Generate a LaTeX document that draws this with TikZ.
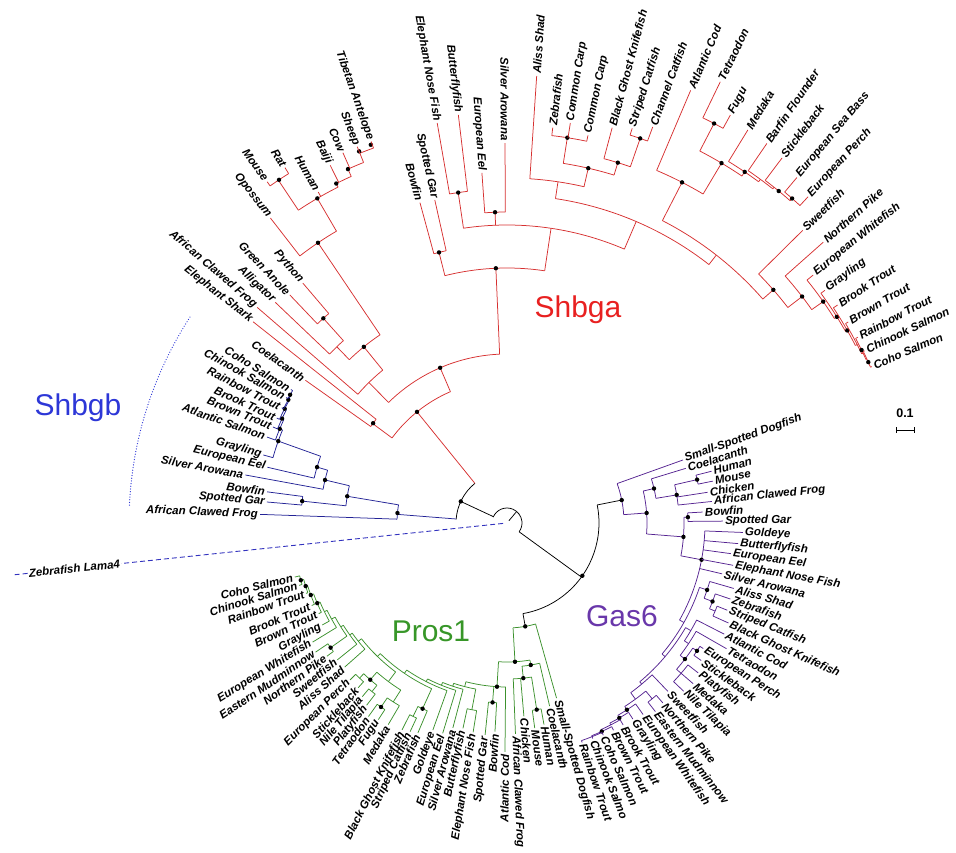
\documentclass[tikz,border=0pt]{standalone}
\usepackage{fontspec}
\setmainfont{Liberation Sans}
\definecolor{redL}{RGB}{214,48,48}
\definecolor{redT}{RGB}{232,32,32}
\definecolor{bluL}{RGB}{35,35,150}
\definecolor{bluT}{RGB}{45,55,215}
\definecolor{grnL}{RGB}{60,145,45}
\definecolor{grnT}{RGB}{55,150,40}
\definecolor{purL}{RGB}{85,35,145}
\definecolor{purT}{RGB}{105,55,170}
\definecolor{dashB}{RGB}{50,50,190}
\tikzset{
 ln/.style={draw=black, line width=0.75pt},
 lab/.style={font=\fontsize{11.5}{13}\selectfont\bfseries\itshape, inner sep=0.6pt, text=black},
 ttl/.style={font=\fontsize{30}{34}\selectfont, inner sep=0pt},
}
\newcommand{\Rd}[3]{\draw[ln] ({#1}:{#2}) -- ({#1}:{#3});}
\newcommand{\Ar}[3]{\draw[ln] ({#1}:{#3}) arc[start angle={#1}, end angle={#2}, radius=#3pt];}
\newcommand{\Dt}[2]{\fill ({#1}:{#2}) circle[radius=2.2pt];}
\newcounter{lf}
\newcommand{\LfR}[4]{\Rd{#1}{#2}{#3}\stepcounter{lf}\node[lab,anchor=west,rotate=#1] (lf\arabic{lf}) at ({#1}:{#3+1.5}) {#4};}
\newcommand{\LfL}[4]{\Rd{#1}{#2}{#3}\stepcounter{lf}\node[lab,anchor=east,rotate=#1+180] (lf\arabic{lf}) at ({#1}:{#3+1.5}) {#4};}
\begin{document}
\begin{tikzpicture}[x=1pt,y=1pt]
\useasboundingbox (-507,-330) rectangle (449,523);
% ---------- root (black)
\Ar{157}{-36}{15}
\Rd{50}{3}{15}
\Rd{155}{15}{51}
\Ar{129}{176}{51}
\Dt{155}{51}
\Rd{-36}{15}{92}
\Ar{11.3}{-80}{92}
\Dt{-35}{92}
\Rd{11.3}{92}{117}
\Rd{-80}{92}{105}
% ---------- Zebrafish Lama4 outgroup
\draw[dashB, line width=0.9pt, dash pattern=on 5pt off 3pt] (186:4) -- (186:388);
\draw[dashB, line width=0.9pt, dash pattern=on 5pt off 3pt] (186:482) -- (186:498);
\node[lab, rotate=6] (zl) at (186:435) {Zebrafish Lama4};
% ---------- Shbga (red)
\begin{scope}[ln/.style={draw=redL,line width=0.75pt}]
\Rd{129}{51}{143}
\Ar{113.3}{143.5}{143} \Dt{129}{143}
\Rd{143.5}{143}{167} \Ar{141.6}{144.7}{167} \Dt{143.3}{167}
\LfL{141.6}{167}{324}{Elephant Shark}
\LfL{144.7}{167}{247}{Coelacanth}
\Rd{113.3}{143}{169} \Ar{92.5}{134.5}{169} \Dt{113.3}{169}
\Rd{134.5}{169}{197} \Ar{129.1}{139.2}{197}
\LfL{139.2}{197}{330}{African Clawed Frog}
\Rd{129.1}{197}{227} \Ar{124}{134}{227} \Dt{129.1}{227}
\Rd{134}{227}{245} \Ar{131.9}{136.4}{245}
\LfL{136.4}{245}{320}{Alligator}
\Rd{131.9}{245}{275} \Ar{130.4}{133.6}{275} \Dt{131.9}{275}
\LfL{130.4}{275}{315}{Python}
\LfL{133.6}{275}{315}{Green Anole}
\Rd{124}{227}{338} \Ar{120.3}{127.8}{338} \Dt{124}{338}
\LfL{127.8}{338}{386}{Opossum}
\Rd{120.3}{338}{376} \Ar{116.7}{123.7}{376} \Dt{120.3}{376}
\LfL{119.7}{376}{381}{Human}
\Rd{123.7}{376}{412} \Ar{122}{125.1}{412} \Dt{123.6}{412}
\LfL{125.1}{412}{417}{Mouse}
\LfL{122}{412}{419}{Rat}
\Rd{116.7}{376}{380} \Ar{114.2}{116.7}{380} \Dt{116.7}{380}
\LfL{116.3}{380}{399}{Baiji}
\Rd{114.2}{380}{388} \Ar{111.7}{114.2}{388} \Dt{114.2}{388}
\LfL{113.9}{388}{405}{Cow}
\Rd{111.7}{388}{398} \Ar{109.6}{111.7}{398} \Dt{111.7}{400} \Dt{109.8}{402}
\LfL{111.7}{398}{405}{Sheep}
\LfL{109.6}{398}{405}{Tibetan Antelope}
\Rd{92.5}{169}{255} \Ar{81.5}{104.1}{255} \Dt{92.5}{255}
\Rd{104.1}{255}{279} \Ar{102.6}{105.2}{279} \Dt{104.1}{279}
\LfL{105.2}{279}{332}{Bowfin}
\LfL{102.6}{279}{331}{Spotted Gar}
\Rd{81.5}{255}{298} \Ar{66.8}{98.4}{298}
\Rd{98.4}{298}{334} \Ar{96.8}{99.9}{334} \Dt{98.4}{334}
\LfL{96.8}{334}{411}{Butterflyfish}
\LfL{99.9}{334}{406}{Elephant Nose Fish}
\Rd{92.2}{298}{311} \Ar{90.3}{94.1}{311} \Dt{92.2}{311}
\LfL{94.1}{311}{351}{European Eel}
\LfL{90.3}{311}{380}{Silver Arowana}
\Rd{66.8}{298}{328} \Ar{52}{81.5}{328}
\Rd{81.5}{328}{345} \Ar{77.1}{86.2}{345}
\LfR{86.2}{345}{448}{Aliss Shad}
\Rd{77.1}{345}{364} \Ar{72.9}{81.1}{364} \Dt{77.1}{364}
\Rd{81.1}{364}{390} \Ar{78.2}{83.4}{390} \Dt{81.1}{390}
\LfR{83.4}{390}{398}{Zebrafish}
\LfR{81.0}{390}{405}{Common Carp}
\LfR{78.2}{390}{396}{Common Carp}
\Rd{72.9}{364}{377} \Ar{70.9}{75.1}{377} \Dt{72.9}{377}
\LfR{75.1}{377}{409}{Black Ghost Knifefish}
\Rd{70.9}{377}{407} \Ar{69.8}{72.4}{407} \Dt{70.9}{407}
\LfR{72.4}{407}{414}{Striped Catfish}
\LfR{69.8}{407}{422}{Channel Catfish}
\Rd{52}{328}{340} \Ar{41.2}{62.8}{340}
\Rd{62.8}{340}{383} \Ar{59.2}{67}{383} \Dt{62.8}{383}
\LfR{67}{383}{470}{Atlantic Cod}
\Rd{59.2}{383}{419} \Ar{55.9}{62.6}{419} \Dt{59.2}{419}
\Rd{62.6}{419}{450} \Ar{61.3}{64.2}{450} \Dt{62.6}{450}
\LfR{64.2}{450}{490}{Tetraodon}
\LfR{61.3}{450}{465}{Fugu}
\Rd{55.9}{419}{424} \Ar{53.6}{58.5}{424} \Dt{55.9}{424}
\LfR{58.5}{424}{461}{Medaka}
\Rd{53.6}{424}{427} \Ar{51.5}{55.6}{427}
\LfR{55.6}{427}{460}{Barfin Flounder}
\Rd{51.5}{427}{429} \Ar{48.7}{53}{429} \Dt{50.7}{429}
\LfR{53}{429}{457}{Stickleback}
\Rd{48.7}{429}{432} \Ar{47.3}{50}{432} \Dt{48.7}{432}
\LfR{50}{432}{451}{European Sea Bass}
\LfR{47.3}{432}{444}{European Perch}
\Rd{41.2}{340}{354} \Ar{37.5}{44.7}{354} \Dt{41.2}{354}
\LfR{44.7}{354}{416}{Sweetfish}
\Rd{37.5}{354}{372} \Ar{35}{41.6}{372} \Dt{37.5}{372}
\LfR{41.6}{372}{423}{Northern Pike}
\Rd{35}{372}{386} \Ar{32}{39}{386} \Dt{35}{386}
\LfR{39}{386}{394}{European Whitefish}
\Rd{32}{386}{389} \Ar{29.5}{36.2}{389} \Dt{32}{389}
\LfR{36.2}{389}{394}{Grayling}
\Rd{29.5}{389}{391} \Ar{27}{33.4}{391} \Dt{29.5}{391}
\LfR{33.4}{391}{396}{Brook Trout}
\Rd{27}{391}{393} \Ar{25.5}{30.5}{393}
\LfR{30.5}{393}{396}{Brown Trout}
\Rd{25.5}{393}{394.5} \Ar{24.5}{27.9}{394.5} \Dt{26}{394.5}
\LfR{27.9}{394.5}{397}{Rainbow Trout}
\Rd{24.5}{394.5}{395.5} \Ar{23.2}{25.7}{395.5} \Dt{24}{395.5}
\LfR{25.7}{395.5}{397}{Chinook Salmon}
\LfR{23.2}{395.5}{397}{Coho Salmon}
\end{scope}
% ---------- Shbgb (blue)
\begin{scope}[ln/.style={draw=bluL,line width=0.75pt}]
\Rd{175.5}{51}{110} \Ar{170.5}{178}{110} \Dt{174.8}{110}
\LfL{178}{110}{247}{African Clawed Frog}
\Rd{170.5}{110}{162} \Ar{166.7}{173.9}{162} \Dt{170.5}{162}
\Rd{173.9}{162}{206} \Ar{172.6}{175}{206} \Dt{173.9}{206}
\LfL{172.6}{206}{242}{Bowfin}
\LfL{175}{206}{241}{Spotted Gar}
\Rd{166.7}{162}{187} \Ar{163.6}{169.6}{187} \Dt{166.7}{187}
\LfL{169.6}{187}{266}{Silver Arowana}
\Rd{163.6}{187}{198} \Ar{160.3}{166.9}{198} \Dt{163.6}{198}
\LfL{166.9}{198}{246}{European Eel}
\Rd{160.3}{198}{243} \Ar{157.5}{164.4}{243} \Dt{160.3}{243}
\LfL{164.4}{243}{253}{Grayling}
\Rd{157.5}{243}{246} \Ar{155.1}{160.3}{246} \Dt{157.5}{246}
\LfL{160.3}{246}{255}{Atlantic Salmon}
\Rd{155.1}{246}{248} \Ar{152.8}{157.7}{248} \Dt{155.1}{248}
\LfL{157.7}{248}{253}{Brown Trout}
\Rd{152.8}{248}{250} \Ar{150.6}{155.5}{250} \Dt{152.8}{250}
\LfL{155.5}{250}{253}{Brook Trout}
\Rd{150.6}{250}{251} \Ar{149.4}{152.9}{251} \Dt{150.6}{251}
\LfL{152.9}{251}{253}{Rainbow Trout}
\Rd{149.4}{251}{252} \Ar{148.3}{150.4}{252} \Dt{149.4}{252}
\LfL{150.4}{252}{254}{Chinook Salmon}
\LfL{148.3}{252}{254}{Coho Salmon}
\end{scope}
% ---------- Gas6 (purple)
\begin{scope}[ln/.style={draw=purL,line width=0.75pt}]
\Ar{4.1}{19.7}{117} \Dt{11.3}{117}
\LfR{19.7}{117}{187}{Small-Spotted Dogfish}
\Rd{4.1}{117}{140} \Ar{-4.5}{13.2}{140} \Dt{4.1}{140}
\Rd{13.2}{140}{151} \Ar{9.4}{17.0}{151} \Dt{13.2}{151}
\LfR{17.0}{151}{187}{Coelacanth}
\Rd{9.4}{151}{172} \Ar{6.0}{12.85}{172} \Dt{9.4}{172}
\Rd{12.85}{172}{195} \Ar{11.5}{14.2}{195} \Dt{12.85}{195}
\LfR{14.2}{195}{211}{Human}
\LfR{11.5}{195}{210}{Mouse}
\LfR{8.7}{172}{203}{Chicken}
\LfR{6.0}{172}{206}{African Clawed Frog}
\Rd{-4.5}{140}{177} \Ar{-10.7}{1.85}{177} \Dt{-4.5}{177}
\Rd{1.85}{177}{181} \Ar{0.5}{3.2}{181} \Dt{1.85}{181}
\LfR{3.2}{181}{196}{Bowfin}
\LfR{0.5}{181}{216}{Spotted Gar}
\Rd{-10.7}{177}{198} \Ar{-29.35}{-2.3}{198} \Dt{-10.7}{198}
\LfR{-2.3}{198}{236}{Goldeye}
\LfR{-5.1}{198}{232}{Butterflyfish}
\LfR{-7.8}{198}{226}{European Eel}
\LfR{-10.6}{198}{230}{Elephant Nose Fish}
\LfR{-13.3}{198}{221}{Silver Arowana}
\Rd{-29.35}{198}{203} \Ar{-40.2}{-18.5}{203}
\Rd{-18.5}{203}{211} \Ar{-20.9}{-16.1}{211} \Dt{-18.5}{211}
\LfR{-16.1}{211}{236}{Aliss Shad}
\Rd{-20.9}{211}{220} \Ar{-22.95}{-18.8}{220} \Dt{-20.9}{220}
\LfR{-18.8}{220}{236}{Zebrafish}
\Rd{-22.95}{220}{226} \Ar{-24.3}{-21.6}{226}
\LfR{-21.6}{226}{237}{Striped Catfish}
\LfR{-24.3}{226}{243}{Black Ghost Knifefish}
\Rd{-40.2}{203}{207} \Ar{-50.1}{-30.35}{207}
\Rd{-30.35}{207}{213} \Ar{-33.6}{-27.1}{213}
\LfR{-27.1}{213}{244}{Atlantic Cod}
\Rd{-33.6}{213}{218} \Ar{-37.4}{-29.8}{218}
\LfR{-29.8}{218}{253}{Tetraodon}
\Rd{-37.4}{218}{224} \Ar{-40.8}{-33.95}{224} \Dt{-37.4}{224}
\Rd{-33.95}{224}{229} \Ar{-35.3}{-32.6}{229} \Dt{-33.95}{229}
\LfR{-32.6}{229}{233}{European Perch}
\LfR{-35.3}{229}{238}{Stickleback}
\Rd{-40.8}{224}{230} \Ar{-43.6}{-38.1}{230}
\LfR{-38.1}{230}{243}{Platyfish}
\LfR{-40.8}{230}{246}{Medaka}
\LfR{-43.6}{230}{244}{Nile Tilapia}
\Rd{-50.1}{207}{210} \Ar{-53.9}{-46.3}{210}
\LfR{-46.3}{210}{233}{Sweetfish}
\Rd{-53.9}{210}{218} \Ar{-57.3}{-50.45}{218}
\Rd{-50.45}{218}{228} \Ar{-51.8}{-49.1}{228}
\LfR{-49.1}{228}{238}{Northern Pike}
\LfR{-51.8}{228}{240}{Eastern Mudminnow}
\Rd{-57.3}{218}{222} \Ar{-60.05}{-54.6}{222} \Dt{-57.3}{222}
\LfR{-54.6}{222}{235}{European Whitefish}
\Rd{-60.05}{222}{225} \Ar{-62.8}{-57.3}{225} \Dt{-60.05}{225}
\LfR{-57.3}{225}{233}{Grayling}
\Rd{-62.8}{225}{227} \Ar{-65.55}{-60.1}{227}
\LfR{-60.1}{227}{233}{Brook Trout}
\Rd{-65.55}{227}{229} \Ar{-68.3}{-62.8}{229} \Dt{-65.55}{229}
\LfR{-62.8}{229}{233}{Brown Trout}
\Rd{-68.3}{229}{230} \Ar{-71.1}{-65.6}{230}
\LfR{-65.6}{230}{233}{Coho Salmon}
\LfR{-68.3}{230}{232}{Chinook Salmo}
\LfR{-71.1}{230}{232}{Rainbow Trout}
\end{scope}
% ---------- Pros1 (green)
\begin{scope}[ln/.style={draw=grnL,line width=0.75pt}]
\Ar{-86.7}{-74.2}{105} \Dt{-80}{105}
\LfR{-74.2}{105}{182}{Small-Spotted Dogfish}
\Rd{-86.7}{105}{139} \Ar{-93.5}{-80.5}{139} \Dt{-86.7}{139}
\Rd{-80.5}{139}{144} \Ar{-84.0}{-76.9}{144} \Dt{-80.5}{144}
\LfR{-76.9}{144}{188}{Coelacanth}
\Rd{-84.0}{144}{156} \Ar{-87.7}{-80.95}{156} \Dt{-84.0}{156}
\Rd{-80.95}{156}{189} \Ar{-82.3}{-79.6}{189} \Dt{-80.95}{189}
\LfR{-79.6}{189}{205}{Human}
\LfR{-82.3}{189}{207}{Mouse}
\LfR{-85.0}{156}{194}{Chicken}
\LfR{-87.7}{156}{211}{African Clawed Frog}
\Rd{-93.5}{139}{164} \Ar{-104.5}{-90.5}{164} \Dt{-93.5}{164}
\LfL{-90.5}{164}{229}{Atlantic Cod}
\Rd{-94.6}{164}{180} \Ar{-95.9}{-93.3}{180} \Dt{-94.6}{180}
\LfL{-93.3}{180}{209}{Bowfin}
\LfL{-95.9}{180}{213}{Spotted Gar}
\Rd{-104.5}{164}{169} \Ar{-108.4}{-100.65}{169}
\Rd{-100.65}{169}{190} \Ar{-102.1}{-99.2}{190}
\LfL{-99.2}{190}{212}{Elephant Nose Fish}
\LfL{-102.1}{190}{210}{Butterflyfish}
\Rd{-108.4}{169}{172} \Ar{-112}{-104.8}{172}
\LfL{-104.8}{172}{212}{Silver Arowana}
\Rd{-112}{172}{175} \Ar{-117}{-107}{175}
\LfL{-107}{175}{220}{European Eel}
\Rd{-117}{175}{178} \Ar{-124.3}{-109.7}{178}
\LfL{-109.7}{178}{220}{Goldeye}
\Rd{-124.3}{178}{182} \Ar{-134.15}{-114.45}{182}
\Rd{-114.45}{182}{204} \Ar{-115.9}{-113}{204} \Dt{-114.45}{204}
\LfL{-113}{204}{228}{Zebrafish}
\Rd{-115.9}{204}{215} \Ar{-116.9}{-114.9}{215}
\LfL{-114.9}{215}{230}{Striped Catfish}
\LfL{-116.9}{215}{232}{Black Ghost Knifefish}
\Rd{-134.15}{182}{186} \Ar{-141.5}{-126.8}{186}
\Rd{-126.8}{186}{198} \Ar{-131.1}{-122.45}{198}
\Rd{-122.45}{198}{212} \Ar{-124.4}{-120.5}{212}
\LfL{-120.5}{212}{234}{Medaka}
\Rd{-124.4}{212}{223} \Ar{-125.6}{-123.2}{223} \Dt{-124.4}{223}
\LfL{-123.2}{223}{235}{Fugu}
\LfL{-125.6}{223}{238}{Tetraodon}
\Rd{-131.1}{198}{208} \Ar{-133.55}{-128.7}{208} \Dt{-131.1}{208}
\Rd{-128.7}{208}{216} \Ar{-129.8}{-127.6}{216}
\LfL{-127.6}{216}{230}{Platyfish}
\LfL{-129.8}{216}{226}{Nile Tilapia}
\Rd{-133.55}{208}{214} \Ar{-135}{-132.1}{214}
\LfL{-132.1}{214}{222}{Stickleback}
\LfL{-135}{214}{222}{European Perch}
\Rd{-141.5}{186}{190} \Ar{-144.55}{-138.4}{190}
\LfL{-138.4}{190}{217}{Aliss Shad}
\Rd{-144.55}{190}{193} \Ar{-148}{-141.1}{193}
\LfL{-141.1}{193}{218}{Sweetfish}
\Rd{-148}{193}{196} \Ar{-151.3}{-144.75}{196}
\Rd{-144.75}{196}{216} \Ar{-146}{-143.5}{216} \Dt{-144.75}{216}
\LfL{-143.5}{216}{224}{Northern Pike}
\LfL{-146}{216}{231}{Eastern Mudminnow}
\Rd{-151.3}{196}{200} \Ar{-154.1}{-148.5}{200}
\LfL{-148.5}{200}{228}{European Whitefish}
\Rd{-154.1}{200}{203} \Ar{-157.1}{-151.1}{203}
\LfL{-151.1}{203}{211}{Grayling}
\Rd{-157.1}{203}{206} \Ar{-159.85}{-154.3}{206} \Dt{-157.1}{206}
\LfL{-154.3}{206}{209}{Brown Trout}
\Rd{-159.85}{206}{209} \Ar{-162.6}{-157.1}{209} \Dt{-159.85}{209}
\LfL{-157.1}{209}{212}{Brook Trout}
\Rd{-162.6}{209}{211} \Ar{-164.5}{-160.7}{211} \Dt{-162.6}{211}
\LfL{-160.7}{211}{213}{Rainbow Trout}
\Rd{-164.5}{211}{214} \Ar{-165.7}{-163.3}{214} \Dt{-164.5}{214}
\LfL{-163.3}{214}{217}{Chinook Salmon}
\LfL{-165.7}{214}{219}{Coho Salmon}
\end{scope}
% ---------- titles, bracket, scale bar
\node[ttl, text=redT] (tA) at (71,213) {Shbga};
\node[ttl, text=bluT] (tB) at (-429,115) {Shbgb};
\node[ttl, text=grnT] (tP) at (-76,-108) {Pros1};
\node[ttl, text=purT] (tG) at (115,-93) {Gas6};
\draw[bluT, line width=1.2pt, dash pattern=on 0.1pt off 2.6pt, line cap=round] (147:378) arc[start angle=147, end angle=177.5, radius=378pt];
\node[font=\bfseries\fontsize{12.5}{14}\selectfont, inner sep=0pt] (sb) at (398,110) {0.1};
\coordinate (s1) at (389,93);
\coordinate (s2) at (407,93);
\draw[line width=0.8pt] (s1) -- (s2);
\draw[line width=0.8pt] ([yshift=-3pt]s1) -- ([yshift=3pt]s1);
\draw[line width=0.8pt] ([yshift=-3pt]s2) -- ([yshift=3pt]s2);
\end{tikzpicture}
\end{document}
